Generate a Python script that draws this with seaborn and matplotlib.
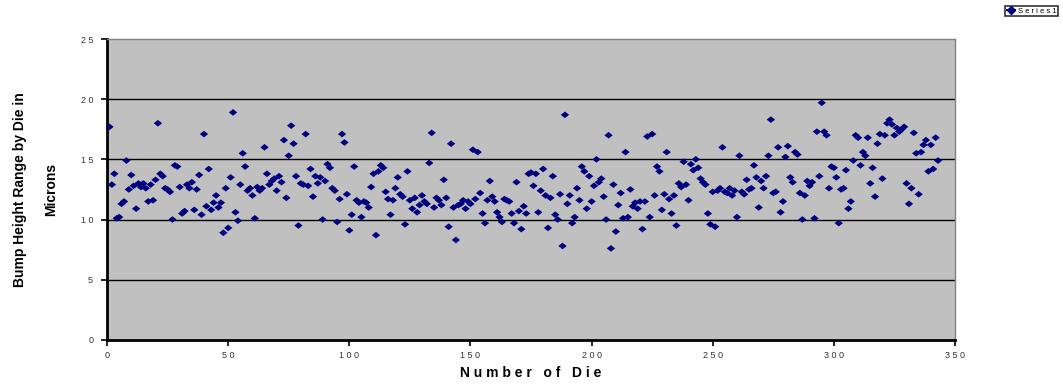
import matplotlib
matplotlib.use("Agg")
import matplotlib.pyplot as plt
from matplotlib.ticker import FuncFormatter
from matplotlib.lines import Line2D
import seaborn as sns
import pandas as pd

# bump height range per die (microns)
bump_range = [
    17.7, 12.9, 13.8, 10.1, 10.2, 11.3, 11.5, 14.9, 12.5, 13.7,
    12.8, 10.9, 13.0, 12.7, 13.0, 12.6, 11.5, 12.9, 11.6, 13.3,
    18.0, 13.8, 13.6, 12.6, 12.5, 12.3, 10.0, 14.5, 14.4, 12.7,
    10.5, 10.7, 12.9, 12.6, 13.1, 10.8, 12.5, 13.7, 10.4, 17.1,
    11.1, 14.2, 10.8, 11.4, 12.0, 11.0, 11.4, 8.9, 12.6, 9.3,
    13.5, 18.9, 10.6, 9.9, 12.9, 15.5, 14.4, 12.4, 12.6, 12.0,
    10.1, 12.7, 12.4, 12.6, 16.0, 13.8, 12.9, 13.2, 13.4, 12.4,
    13.6, 13.1, 16.6, 11.8, 15.3, 17.8, 16.3, 13.6, 9.5, 13.0,
    12.9, 17.1, 12.8, 14.2, 11.9, 13.6, 13.0, 13.5, 10.0, 13.2,
    14.6, 14.3, 12.6, 12.4, 9.8, 11.7, 17.1, 16.4, 12.1, 9.1,
    10.4, 14.4, 11.6, 11.4, 10.2, 11.5, 11.4, 11.0, 12.7, 13.8,
    8.7, 14.0, 14.5, 14.3, 12.3, 11.7, 10.4, 11.6, 12.6, 13.5,
    12.1, 11.9, 9.6, 14.0, 11.6, 10.9, 11.8, 10.6, 11.2, 12.0,
    11.5, 11.3, 14.7, 17.2, 11.0, 11.8, 11.6, 11.2, 13.3, 11.8,
    9.4, 16.3, 11.0, 8.3, 11.2, 11.3, 11.6, 10.9, 11.5, 11.3,
    15.8, 11.7, 15.6, 12.2, 10.5, 9.7, 11.6, 13.2, 11.9, 11.5,
    10.6, 10.2, 9.8, 11.7, 11.6, 11.5, 10.5, 9.7, 13.1, 10.7,
    9.2, 11.1, 10.5, 13.8, 13.9, 12.8, 13.8, 10.6, 12.4, 14.2,
    12.0, 9.3, 11.8, 13.6, 10.4, 10.0, 12.1, 7.8, 18.7, 11.3,
    12.0, 9.7, 10.2, 12.6, 11.6, 14.4, 14.0, 10.9, 13.6, 11.5,
    12.8, 15.0, 13.1, 13.4, 11.9, 10.0, 17.0, 7.6, 12.9, 9.0,
    11.2, 12.2, 10.1, 15.6, 10.2, 12.5, 11.1, 11.4, 10.9, 11.5,
    9.2, 11.5, 16.9, 10.2, 17.1, 12.0, 14.4, 14.0, 10.8, 12.1,
    15.6, 11.7, 10.5, 12.0, 9.5, 13.0, 12.7, 14.8, 12.9, 11.6,
    14.6, 14.1, 15.0, 14.3, 13.4, 13.1, 12.9, 10.5, 9.6, 12.3,
    9.4, 12.4, 12.6, 16.0, 12.3, 12.2, 12.6, 12.0, 12.4, 10.2,
    15.3, 12.3, 12.1, 13.3, 12.5, 12.6, 14.5, 13.5, 11.0, 13.2,
    12.6, 13.6, 15.3, 18.3, 12.2, 12.3, 16.0, 10.6, 11.5, 15.2,
    16.1, 13.5, 13.1, 15.6, 15.4, 12.2, 10.0, 12.0, 13.2, 12.8,
    13.1, 10.1, 17.3, 13.6, 19.7, 17.3, 17.0, 12.6, 14.4, 14.3,
    13.5, 9.7, 12.5, 12.6, 14.1, 10.9, 11.5, 14.9, 17.0, 16.8,
    14.5, 15.6, 15.3, 16.8, 13.0, 14.3, 11.9, 16.3, 17.1, 13.4,
    17.0, 18.0, 18.3, 17.9, 17.0, 17.6, 17.3, 17.5, 17.7, 13.0,
    11.3, 12.6, 17.2, 15.5, 12.1, 15.6, 16.2, 16.6, 14.0, 16.2,
    14.2, 16.8, 14.9,
]
die_number = list(range(1, len(bump_range) + 1))

x_ticks = [0, 50, 100, 150, 200, 250, 300, 350]
y_ticks = [0, 5, 10, 15, 20, 25]


def spaced(s):
    return " ".join(str(s))


plt.rcParams['font.family'] = ['Liberation Sans', 'DejaVu Sans']

df = pd.DataFrame({'Die': die_number, 'Range': bump_range})

# excel style diamond, a bit wider than tall
diamond = [(-1.25, 0), (0, 1), (1.25, 0), (0, -1), (-1.25, 0)]

fig = plt.figure(figsize=(10.63, 3.92), dpi=100)
ax = fig.add_axes([0.1007, 0.133, 0.7977, 0.7675])
ax.set_facecolor('#C0C0C0')

sns.scatterplot(x='Die', y='Range', data=df, ax=ax, marker=diamond, s=36,
                color='#000080', edgecolor='none', zorder=3, legend=False)

ax.set_xlim(0, 350)
ax.set_ylim(0, 25)
ax.set_xticks(x_ticks)
ax.set_yticks(y_ticks)
ax.xaxis.set_major_formatter(FuncFormatter(lambda v, p: spaced(int(v))))
ax.yaxis.set_major_formatter(FuncFormatter(lambda v, p: spaced(int(v))))
ax.tick_params(axis='both', labelsize=6.5, direction='out', length=4,
               width=1.2, color='black', labelcolor='#333333')
ax.tick_params(axis='x', pad=4)
ax.tick_params(axis='y', pad=6)

for yv in [5, 10, 15, 20]:
    ax.axhline(yv, color='black', linewidth=1, zorder=1)

for side in ['top', 'right']:
    ax.spines[side].set_color('#808080')
    ax.spines[side].set_linewidth(1)
for side in ['left', 'bottom']:
    ax.spines[side].set_color('black')
    ax.spines[side].set_linewidth(2)

ax.set_xlabel(spaced('Number') + '   ' + spaced('of') + '   ' + spaced('Die'),
              fontsize=10, fontweight='bold', labelpad=4)
ax.set_ylabel('Bump Height Range by Die in\nMicrons', fontsize=10,
              fontweight='bold', linespacing=2.6, labelpad=16,
              multialignment='center')

handle = Line2D([], [], marker='D', color='#000080', markersize=4,
                linestyle='-', linewidth=1.5)
leg = fig.legend([handle], [spaced('Series1')], loc='upper right',
                 bbox_to_anchor=(0.995, 0.985), fontsize=5.5, frameon=True,
                 fancybox=False, edgecolor='black', borderpad=0.2,
                 handlelength=1.1, handletextpad=0.3, borderaxespad=0)
leg.get_frame().set_linewidth(1.2)

fig.savefig('out.png', dpi=100)
